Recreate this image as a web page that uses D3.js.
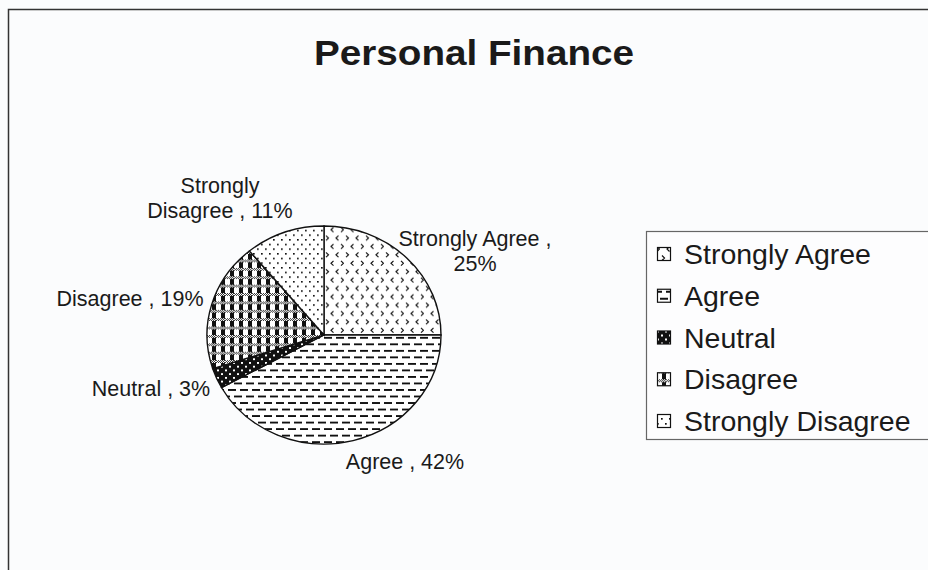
<!DOCTYPE html>
<html>
<head>
<meta charset="utf-8">
<script src="https://cdn.jsdelivr.net/npm/d3@7"></script>
<style>
  html, body { margin: 0; padding: 0; background: #fbfcfd; }
  svg { display: block; }
</style>
</head>
<body>
<svg id="chart" width="928" height="570"></svg>
<script>
// ---- data ----
const categories = ["Strongly Agree", "Agree", "Neutral", "Disagree", "Strongly Disagree"];
const values = [25, 42, 3, 19, 11];
const labelLines = [
  ["Strongly Agree ,", "25%"],
  ["Agree , 42%"],
  ["Neutral , 3%"],
  ["Disagree , 19%"],
  ["Strongly", "Disagree , 11%"]
];
const patternIds = ["pSA", "pA", "pN", "pD", "pSD"];
const title = "Personal Finance";

const svg = d3.select("#chart");
const defs = svg.append("defs");
const font = "'Liberation Sans', Arial, Helvetica, sans-serif";

// ---- patterns ----
// Strongly Agree: chevrons
{
  const p = defs.append("pattern").attr("id", "pSA").attr("patternUnits", "userSpaceOnUse")
    .attr("width", 20).attr("height", 18);
  p.append("rect").attr("width", 20).attr("height", 18).attr("fill", "#fff");
  const gt = (x, y) => `M${x},${y-2.5}L${x+2.5},${y}L${x},${y+2.5}`;
  const lt = (x, y) => `M${x+2.5},${y-2.5}L${x},${y}L${x+2.5},${y+2.5}`;
  p.append("path").attr("d", gt(2, 4) + lt(12, 4) + lt(7, 13) + gt(17, 13))
    .attr("fill", "none").attr("stroke", "#111").attr("stroke-width", 1.2);
}
// Agree: horizontal dashes
{
  const p = defs.append("pattern").attr("id", "pA").attr("patternUnits", "userSpaceOnUse")
    .attr("width", 12).attr("height", 14);
  p.append("rect").attr("width", 12).attr("height", 14).attr("fill", "#fff");
  p.append("path").attr("d", "M0,3H8M6,10H12M0,10H2")
    .attr("stroke", "#111").attr("stroke-width", 1.8);
}
// Neutral: black with white dots
{
  const p = defs.append("pattern").attr("id", "pN").attr("patternUnits", "userSpaceOnUse")
    .attr("width", 8).attr("height", 8);
  p.append("rect").attr("width", 8).attr("height", 8).attr("fill", "#111");
  p.append("rect").attr("x", 1).attr("y", 1).attr("width", 2).attr("height", 2).attr("fill", "#fff");
  p.append("rect").attr("x", 5).attr("y", 5).attr("width", 2).attr("height", 2).attr("fill", "#fff");
}
// fine checker for plaid bands
{
  const p = defs.append("pattern").attr("id", "pChk").attr("patternUnits", "userSpaceOnUse")
    .attr("width", 2).attr("height", 2);
  p.append("rect").attr("width", 2).attr("height", 2).attr("fill", "#fff");
  p.append("rect").attr("width", 1).attr("height", 1).attr("fill", "#333");
  p.append("rect").attr("x", 1).attr("y", 1).attr("width", 1).attr("height", 1).attr("fill", "#333");
}
// Disagree: plaid
{
  const p = defs.append("pattern").attr("id", "pD").attr("patternUnits", "userSpaceOnUse")
    .attr("width", 9).attr("height", 9);
  p.append("rect").attr("width", 9).attr("height", 9).attr("fill", "#fff");
  p.append("rect").attr("x", 5).attr("width", 4).attr("height", 9).attr("fill", "#111");
  p.append("rect").attr("y", 0).attr("width", 9).attr("height", 3).attr("fill", "url(#pChk)");
}
// Strongly Disagree: dots
{
  const p = defs.append("pattern").attr("id", "pSD").attr("patternUnits", "userSpaceOnUse")
    .attr("width", 8).attr("height", 10);
  p.append("rect").attr("width", 8).attr("height", 10).attr("fill", "#fff");
  p.append("rect").attr("x", 1).attr("y", 2).attr("width", 1.7).attr("height", 1.7).attr("fill", "#111");
  p.append("rect").attr("x", 5).attr("y", 7).attr("width", 1.7).attr("height", 1.7).attr("fill", "#111");
}

// ---- chart frame ----
svg.append("rect").attr("x", 8.5).attr("y", 9.5).attr("width", 940).attr("height", 580)
  .attr("fill", "none").attr("stroke", "#333").attr("stroke-width", 1.5);

// ---- title ----
svg.append("text").attr("x", 474).attr("y", 65).attr("text-anchor", "middle")
  .attr("font-family", font).attr("font-weight", "bold").attr("font-size", 35)
  .attr("fill", "#1a1a1a")
  .attr("textLength", 320).attr("lengthAdjust", "spacingAndGlyphs")
  .text(title);

// ---- pie ----
const cx = 324, cy = 335, rx = 117, ry = 109;
const pie = d3.pie().sort(null).value(d => d)(values);
const arc = d3.arc().innerRadius(0).outerRadius(rx);
const gPie = svg.append("g").attr("transform", `translate(${cx},${cy}) scale(1,${ry / rx})`);
gPie.selectAll("path").data(pie).join("path")
  .attr("d", arc)
  .attr("fill", (d, i) => `url(#${patternIds[i]})`)
  .attr("stroke", "#111")
  .attr("stroke-width", 1.4)
  .attr("vector-effect", "non-scaling-stroke");

// ---- data labels ----
const labelPos = [
  {x: 475, y: 246},
  {x: 405, y: 469},
  {x: 151, y: 396},
  {x: 130, y: 306},
  {x: 220, y: 193}
];
const lblG = svg.append("g");
labelLines.forEach((lines, i) => {
  const t = lblG.append("text")
    .attr("x", labelPos[i].x).attr("y", labelPos[i].y)
    .attr("text-anchor", "middle")
    .attr("font-family", font).attr("font-size", 21.5).attr("fill", "#1a1a1a");
  lines.forEach((ln, j) => {
    t.append("tspan").attr("x", labelPos[i].x).attr("dy", j === 0 ? 0 : 25).text(ln);
  });
});

// ---- legend ----
const legY = d3.scalePoint().domain(categories).range([254, 421]);
svg.append("rect").attr("x", 646.5).attr("y", 231.5).attr("width", 300).attr("height", 208)
  .attr("fill", "#fdfdfe").attr("stroke", "#666").attr("stroke-width", 1.2);
const leg = svg.append("g").selectAll("g").data(categories).join("g")
  .attr("transform", d => `translate(0,${legY(d)})`);
leg.append("rect").attr("x", 657.5).attr("y", -6.5).attr("width", 13).attr("height", 13)
  .attr("fill", (d, i) => `url(#${patternIds[i]})`).attr("stroke", "#111").attr("stroke-width", 1.2);
leg.append("text").attr("x", 684).attr("y", 10)
  .attr("font-family", font).attr("font-size", 28.5).attr("fill", "#1a1a1a")
  .text(d => d);
</script>
</body>
</html>
